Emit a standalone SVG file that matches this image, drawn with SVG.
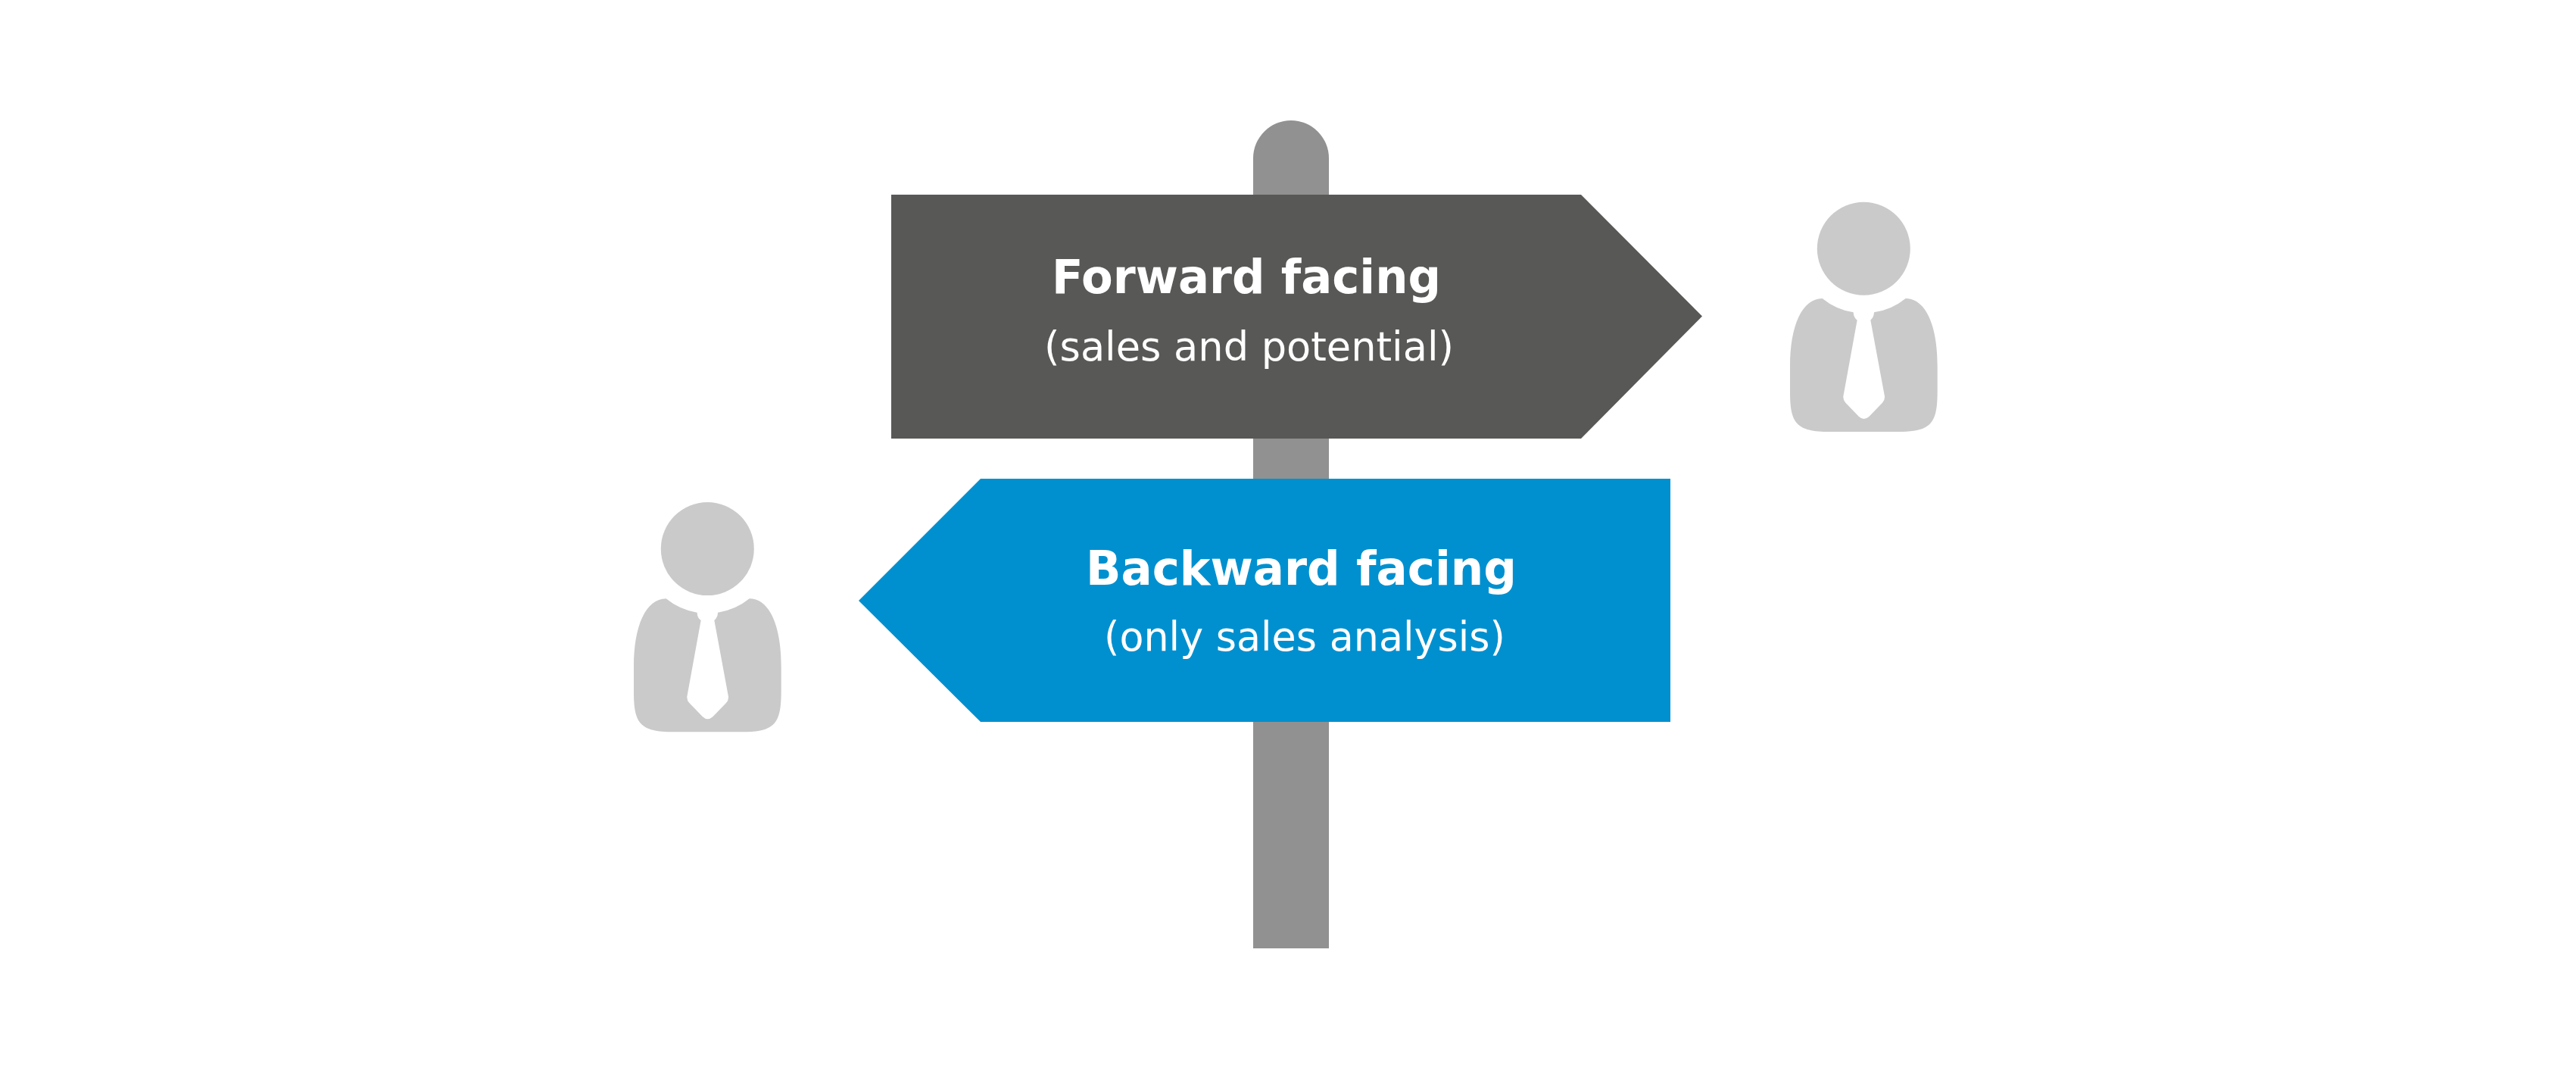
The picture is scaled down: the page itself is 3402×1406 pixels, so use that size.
<svg xmlns="http://www.w3.org/2000/svg" width="3402" height="1406" viewBox="0 0 3402 1406">
<style>
.t{font-family:"DejaVu Sans","Liberation Sans",sans-serif;fill:#fff}
.b{font-weight:700;font-size:62px}
.r{font-size:54px}
.person{fill:#cacaca}
</style>
<defs>
<g id="personShape">
<circle cx="2461.300" cy="328.300" r="61.500"/>
<path transform="translate(2300 230) scale(.33333)" d="M320 492A256 256 0 0 0 443 547Q443 567 458 578L403 880Q402 895 412 905L465 960Q484 978 505 960L558 905Q568 895 567 880L511 578Q525 565 525 547A256 256 0 0 0 650 492C730 492 776 600 776 760L776 860C776 985 753 1020 620 1020L350 1020C215 1020 192 985 192 860L192 760C192 600 240 492 320 492Z"/>
</g>
</defs>
<rect width="3402" height="1406" fill="#fff"/>
<g id="pole"><path d="M1655 1252V209a50 50 0 0 1 100 0V1252Z" fill="#919191"/></g>
<g id="forward">
<path d="M1177 257H2088L2248 417.500L2088 579H1177Z" fill="#585856"/>
<text class="t b" x="1389" y="387" textLength="514" lengthAdjust="spacingAndGlyphs">Forward facing</text>
<text class="t r" x="1379" y="476" textLength="541" lengthAdjust="spacingAndGlyphs">(sales and potential)</text>
</g>
<g id="backward">
<path d="M1295 632H2206V953H1295L1134 793Z" fill="#0090cf"/>
<text class="t b" x="1434" y="772" textLength="569" lengthAdjust="spacingAndGlyphs">Backward facing</text>
<text class="t r" x="1458" y="859" textLength="530" lengthAdjust="spacingAndGlyphs">(only sales analysis)</text>
</g>
<g id="person-right" class="person"><use href="#personShape"/></g>
<g id="person-left" class="person"><use href="#personShape" transform="translate(-1527 396.300)"/></g>
</svg>
